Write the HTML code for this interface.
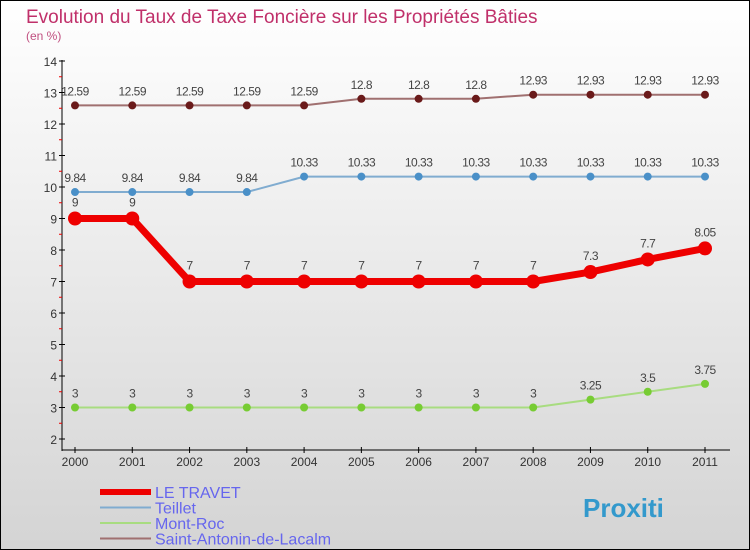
<!DOCTYPE html>
<html><head><meta charset="utf-8"><style>
body{margin:0;}
#c{width:750px;height:550px;position:relative;overflow:hidden;box-sizing:border-box;border:1px solid #000;background:linear-gradient(#ffffff,#d4d4d4);font-family:"Liberation Sans",sans-serif;}
svg text{font-family:"Liberation Sans",sans-serif;}
</style></head><body>
<div id="c">
<svg id="s" width="750" height="550" style="position:absolute;left:-1px;top:-1px">
<text x="26" y="23" font-size="19" fill="#c0306a">Evolution du Taux de Taxe Foncière sur les Propriétés Bâties</text>
<text x="26" y="40" font-size="12" fill="#c05080">(en %)</text>
</svg>
</div>
<script>
const years=[2000,2001,2002,2003,2004,2005,2006,2007,2008,2009,2010,2011];
const yTicks=[2,3,4,5,6,7,8,9,10,11,12,13,14];
const leTravet=[9,9,7,7,7,7,7,7,7,7.3,7.7,8.05];
const teillet=[9.84,9.84,9.84,9.84,10.33,10.33,10.33,10.33,10.33,10.33,10.33,10.33];
const montRoc=[3,3,3,3,3,3,3,3,3,3.25,3.5,3.75];
const saintAntonin=[12.59,12.59,12.59,12.59,12.59,12.8,12.8,12.8,12.93,12.93,12.93,12.93];
const NS='http://www.w3.org/2000/svg';
const s=document.getElementById('s');
const X=i=>75+i*(630/11);
const Y=v=>439-(v-2)*31.5;
function mk(t,a,p){const e=document.createElementNS(NS,t);for(const k in a)e.setAttribute(k,a[k]);(p||s).appendChild(e);return e;}
let ax=mk('line',{x1:62,y1:60,x2:62,y2:451,stroke:'#000','stroke-width':1});


let xa=mk('line',{x1:62,y1:450,x2:730,y2:450,stroke:'#000','stroke-width':1});


yTicks.forEach(v=>{
 mk('line',{x1:59,y1:Y(v),x2:65,y2:Y(v),stroke:'#000'});
 if(v<14) mk('line',{x1:59,y1:Y(v+0.5),x2:62,y2:Y(v+0.5),stroke:'#e00'});
 const t=mk('text',{x:57,y:Y(v)+5,'font-size':12,fill:'#333','text-anchor':'end'});
 t.textContent=v;
 
 
});
years.forEach((y,i)=>{
 mk('line',{x1:X(i),y1:447,x2:X(i),y2:453,stroke:'#000'});
 const t=mk('text',{x:X(i),y:466,'font-size':12,fill:'#333','text-anchor':'middle'});
 t.textContent=y;
 
 
});
function series(data,color,dot,w,r,name,labOff){
 const g=mk('g',{});
 
 
 mk('polyline',{points:data.map((v,i)=>X(i)+','+Y(v)).join(' '),fill:'none',stroke:color,'stroke-width':w,'stroke-linejoin':'round'},g);
 data.forEach((v,i)=>{
  const c=mk('circle',{cx:X(i),cy:Y(v),r:r,fill:dot},g);
  
  
  const t=mk('text',{x:X(i),y:Y(v)-labOff,'font-size':12,fill:'#444','text-anchor':'middle','letter-spacing':'-0.5'},g);
  t.textContent=String(v);
  
  
 });
}
series(montRoc,'#a8dc80','#77cc33',2,4,'mont-roc-series',10);
series(teillet,'#80acd0','#4a90c8',2,4,'teillet-series',10);
series(saintAntonin,'#a07070','#6a1a1a',2,4,'saint-antonin-series',10);
series(leTravet,'#ee0000','#ee0000',7,7,'le-travet-series',12);
const leg=[['LE TRAVET','#ee0000',6],['Teillet','#80acd0',2],['Mont-Roc','#a8dc80',2],['Saint-Antonin-de-Lacalm','#a07070',2]];
leg.forEach((l,i)=>{
 const y=492+i*15.5;
 const g=mk('g',{});
 
 
 mk('line',{x1:100,y1:y,x2:151,y2:y,stroke:l[1],'stroke-width':l[2]},g);
 const t=mk('text',{x:155,y:y+6,'font-size':16,fill:'#6666ee'},g);
 t.textContent=l[0];
});
const lg=mk('text',{x:583,y:517,'font-size':26,'font-weight':'bold',fill:'#3399cc'});
lg.textContent='Proxiti';


</script>
</body></html>
